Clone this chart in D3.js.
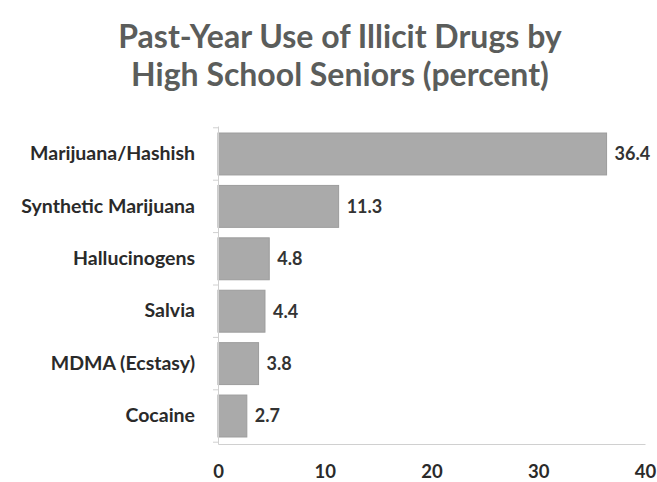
<!DOCTYPE html>
<html>
<head>
  <meta charset="UTF-8">
  <style>
    body { margin: 0; background: #fff; }
    text { font-family: Lato, "Open Sans", sans-serif; font-weight: bold; }
  </style>
</head>
<body>
<svg></svg>
<script src="https://d3js.org/d3.v7.min.js"></script>
<script>

let width = 657, height = 482;

// chart data
let categories = ["Marijuana/Hashish", "Synthetic Marijuana", "Hallucinogens", "Salvia", "MDMA (Ecstasy)", "Cocaine"];
let values = [36.4, 11.3, 4.8, 4.4, 3.8, 2.7];
let xTicks = [0, 10, 20, 30, 40];
let titleLines = ["Past-Year Use of Illicit Drugs by", "High School Seniors (percent)"];

let data = categories.map((c, i) => ({ name: c, value: values[i] }));

let svg = d3.select("svg")
    .attr("width", width)
    .attr("height", height);

let x = d3.scaleLinear()
    .domain([0, 40])
    .range([218, 645]);

let y = d3.scaleBand()
    .domain(categories)
    .range([126, 444])
    .paddingInner(0.2)
    .paddingOuter(0.134);

// title
svg.append("g").selectAll("text")
    .data(titleLines)
    .enter()
    .append("text")
    .attr("x", 340)
    .attr("y", (d, i) => 48 + i * 38)
    .attr("text-anchor", "middle")
    .style("font-size", "32px")
    .style("fill", "#5b5d5b")
    .text(d => d);

// bars
svg.append("g").selectAll("rect")
    .data(data)
    .enter()
    .append("rect")
    .attr("x", x(0))
    .attr("y", d => y(d.name))
    .attr("width", d => x(d.value) - x(0))
    .attr("height", y.bandwidth())
    .attr("fill", "#aaaaaa")
    .attr("stroke", "#9c9c9c")
    .attr("stroke-width", 1);

// value labels
svg.append("g").selectAll("text")
    .data(data)
    .enter()
    .append("text")
    .attr("x", d => x(d.value) + 8)
    .attr("y", d => y(d.name) + y.bandwidth() / 2)
    .attr("dy", "0.35em")
    .style("font-size", "18px")
    .style("fill", "#333")
    .text(d => d.value.toFixed(1));

// y axis
let yAxis = svg.append("g")
    .attr("transform", "translate(" + x(0) + ",0)")
    .call(d3.axisLeft(y).tickSize(0).tickPadding(23));
yAxis.select(".domain").attr("stroke", "#d0d0d0");
yAxis.selectAll("text").style("font-size", "19.5px").style("fill", "#2a2a2a");

// category separator ticks
let step = y.step();
let bounds = d3.range(categories.length + 1).map(i => y(categories[0]) - step * y.paddingInner() / 2 + i * step);
svg.append("g").selectAll("line")
    .data(bounds)
    .enter()
    .append("line")
    .attr("x1", x(0) - 5)
    .attr("x2", x(0))
    .attr("y1", d => d)
    .attr("y2", d => d)
    .attr("stroke", "#d0d0d0");

// x axis
let xAxis = svg.append("g")
    .attr("transform", "translate(0,444)")
    .call(d3.axisBottom(x).tickValues(xTicks).tickSize(0).tickPadding(21));
xAxis.select(".domain").attr("stroke", "#d0d0d0");
xAxis.selectAll("text").style("font-size", "18.5px").style("fill", "#2a2a2a");

</script>
</body>
</html>
